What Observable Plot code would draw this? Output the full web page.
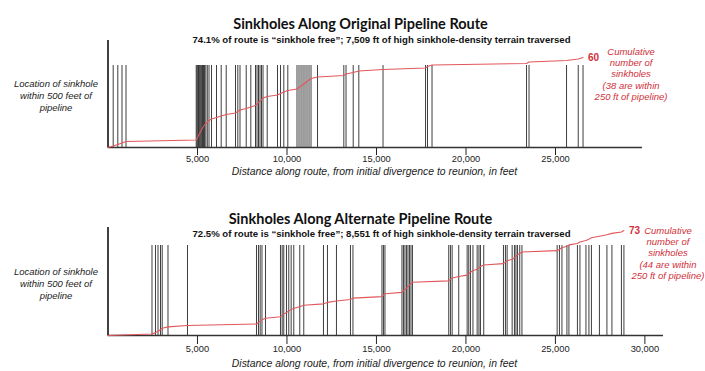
<!DOCTYPE html>
<html><head><meta charset="utf-8">
<script src="https://cdn.jsdelivr.net/npm/d3@7"></script>
<script src="https://cdn.jsdelivr.net/npm/@observablehq/plot@0.6"></script>
<style>
body{margin:0;background:#fff;}
#chart svg{display:block;}
</style></head><body><div id="chart"></div>
<script>
// Sinkhole positions (feet along route)
const originalSinkholes = [290,548,782,1006,
  4928,4972,5017,5056,5101,5146,5190,5235,5280,5336,5391,5464,5548,5643,
  5782,6062,6324,6604,7123,7252,7375,7721,7978,
  8241,8325,8408,8492,8576,8660,
  8894,9470,9638,9822,10045,
  10559,10671,10783,10895,11006,11118,11230,11342,
  11705,13174,
  13297,13699,14012,15364,17739,17850,18102,23382,23521,25616,26270,26538];
const alternateSinkholes = [2458,2654,2794,2933,3028,3352,4442,
  8297,8408,8503,8604,8800,
  9638,9733,9822,9973,10101,10235,10381,10716,10939,
  12040,12263,12766,13548,13688,15308,15392,15476,
  16426,16510,16593,16677,16761,16845,16929,17012,
  19040,19135,19230,19599,20068,20158,20253,20393,20627,20728,20812,20996,
  22097,22208,22303,22583,22711,22795,22879,23007,23130,
  25097,25226,25365,25644,25756,26231,26371,26706,26873,27013,27460,27879,28158,28689,28829];
const originalTicks = [5000,10000,15000,20000,25000];
const alternateTicks = [5000,10000,15000,20000,25000,30000];
const originalTitle = "Sinkholes Along Original Pipeline Route";
const originalSubtitle = "74.1% of route is \u201csinkhole free\u201d; 7,509 ft of high sinkhole-density terrain traversed";
const alternateTitle = "Sinkholes Along Alternate Pipeline Route";
const alternateSubtitle = "72.5% of route is \u201csinkhole free\u201d; 8,551 ft of high sinkhole-density terrain traversed";
const originalNote = "Cumulative\nnumber of\nsinkholes\n(38 are within\n250 ft of pipeline)";
const alternateNote = "Cumulative\nnumber of\nsinkholes\n(44 are within\n250 ft of pipeline)";
const leftLabel = "Location of sinkhole\nwithin 500 feet of\npipeline";
const xLabel = "Distance along route, from initial divergence to reunion, in feet";

const RED_LINE = "#e2575b", RED_TEXT = "#d0303a";
const SANS = "'Liberation Sans', Arial, sans-serif";
const TITLE_FONT = "Lato, 'Open Sans', sans-serif";

function panel(c) {
  const N = c.sinkholes.length;
  const cum = [{x: 0, n: 0}, ...c.sinkholes.map((x, i) => ({x, n: i + 1}))];
  const last = cum[cum.length - 1];
  const frameCenter = (107.5 + (705 - c.marginRight)) / 2;
  return Plot.plot({
    width: 705, height: c.height,
    marginLeft: 107.5, marginRight: c.marginRight,
    marginTop: c.marginTop, marginBottom: c.marginBottom,
    x: {domain: [0, c.xMax], ticks: c.ticks, tickFormat: d3.format(","), tickSize: c.tickSize, tickPadding: c.tickPadding, label: null},
    y: {domain: [0, N], range: [c.height - c.marginBottom, c.yTop], axis: null},
    style: {fontFamily: SANS, fontSize: "9.3px", color: "#222", overflow: "visible", background: "#fff"},
    marks: [
      Plot.ruleX(c.sinkholes, {stroke: "#2a2a2a", strokeWidth: 1, strokeOpacity: 0.9, insetTop: c.insetTop}),
      Plot.ruleX([0], {stroke: "#111", strokeWidth: 1.6}),
      Plot.ruleY([0], {stroke: "#333", strokeWidth: 1.6}),
      Plot.line(cum, {x: "x", y: "n", stroke: RED_LINE, strokeWidth: 1.1}),
      Plot.text([last], {x: "x", y: "n", text: () => String(N), dx: 5, textAnchor: "start", fill: RED_TEXT, fontWeight: "bold", fontSize: 10}),
      Plot.text([c.note], {x: () => last.x, y: () => N, text: d => d, dx: c.noteDx, dy: c.noteDy, lineAnchor: "top", textAnchor: "middle", fill: RED_TEXT, fontStyle: "italic", fontSize: 9.5, lineHeight: 1.2}),
      Plot.text([leftLabel], {text: d => d, frameAnchor: "left", dx: -52, dy: c.leftDy, textAnchor: "middle", fontStyle: "italic", fontSize: 9.5, lineHeight: 1.27, fill: "#222"}),
      Plot.text([c.title], {text: d => d, frameAnchor: "top", dx: 360 - frameCenter, dy: c.titleDy, fontWeight: "bold", fontSize: 14.5, fontFamily: TITLE_FONT, fill: "#111"}),
      Plot.text([c.subtitle], {text: d => d, frameAnchor: "top", dx: 381 - frameCenter, dy: c.subDy, fontWeight: "bold", fontSize: 9.6, fill: "#111"}),
      Plot.text([xLabel], {text: d => d, frameAnchor: "bottom", dx: 374 - frameCenter, dy: c.xLabelDy, fontStyle: "italic", fontSize: 10.4, fill: "#222"})
    ]
  });
}

const chart = document.getElementById("chart");
chart.append(panel({
  sinkholes: originalSinkholes, ticks: originalTicks, xMax: 29860,
  height: 190, marginTop: 40, marginBottom: 43, marginRight: 63, yTop: 57, insetTop: 25,
  tickSize: 8, tickPadding: 0,
  title: originalTitle, subtitle: originalSubtitle, note: originalNote,
  noteDx: 48, noteDy: -11, leftDy: 1, titleDy: -22, subDy: -4, xLabelDy: 27.5
}));
chart.append(panel({
  sinkholes: alternateSinkholes, ticks: alternateTicks, xMax: 31040,
  height: 181, marginTop: 37, marginBottom: 36, marginRight: 42, yTop: 40, insetTop: 18,
  tickSize: 9, tickPadding: 1,
  title: alternateTitle, subtitle: alternateSubtitle, note: alternateNote,
  noteDx: 44, noteDy: -5, leftDy: 2, titleDy: -14, subDy: 3, xLabelDy: 31
}));
</script></body></html>
